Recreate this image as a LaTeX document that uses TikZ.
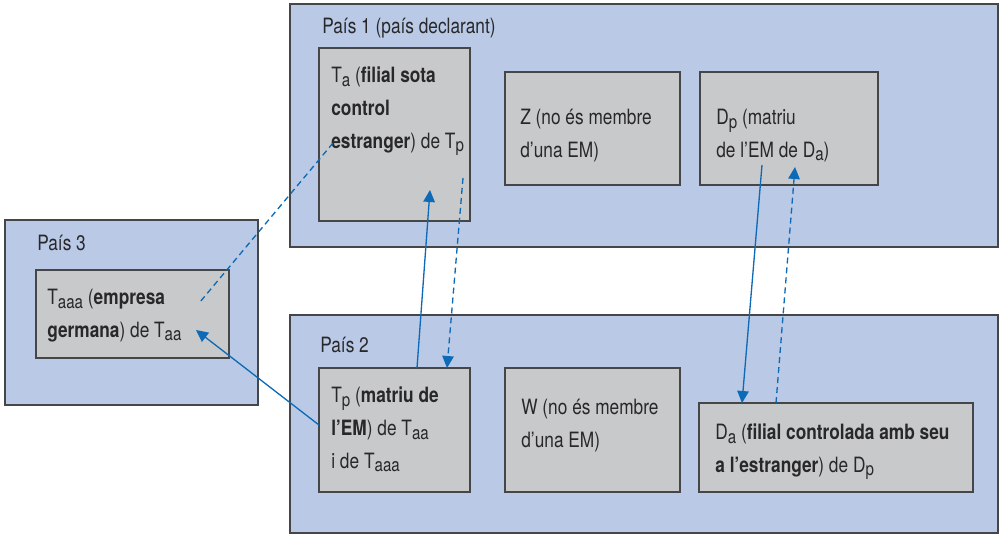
\documentclass[tikz,border=0pt]{standalone}
\usepackage{fontspec}
\setmainfont{TeX Gyre Heros}[FakeStretch=0.82]
\usepackage{xcolor}
\definecolor{countryblue}{RGB}{185,201,230}
\definecolor{firmgray}{RGB}{200,201,203}
\definecolor{framegray}{RGB}{70,70,72}
\definecolor{textgray}{RGB}{40,40,42}
\definecolor{linkblue}{RGB}{12,106,182}
\usepackage{tikz}
\usetikzlibrary{calc}
\usetikzlibrary{arrows.meta}
\newcommand{\lo}[1]{\raisebox{-0.35ex}{\fontsize{10.5}{10.5}\selectfont #1}}
\tikzset{
    common/.style={anchor=north west, draw=framegray, rectangle, inner sep=0pt, outer sep=0pt},
    country/.style={common, fill=countryblue, line width=1.2pt},
    firm/.style={common, fill=firmgray, line width=0.9pt},
    caption/.style={anchor=base west, align=left, inner sep=0pt, text=textgray,
        font=\fontsize{12}{18.7}\selectfont},
    link/.style={draw=linkblue, line width=0.75pt, -{Triangle[length=2.4mm, width=2.3mm]}},
    backlink/.style={link, dash pattern=on 1.2mm off 0.8mm},
    plainlink/.style={draw=linkblue, line width=0.75pt, dash pattern=on 1.2mm off 0.8mm}
}

\begin{document}
\begin{tikzpicture}[x=0.02cm, y=-0.02cm]
    \useasboundingbox (0,0) rectangle (1004,535);

    % countries
    \node[country, minimum width=14.16cm, minimum height=4.86cm] (p1) at (290,4) {};
    \node[country, minimum width=5.06cm, minimum height=3.7cm] (p3) at (5,220) {};
    \node[country, minimum width=14.16cm, minimum height=4.36cm] (p2) at (290,315) {};
    \node[caption] (p1 text) at ($(p1.north west)+(32,29)$) {País 1 (país declarant)};
    \node[caption] (p3 text) at ($(p3.north west)+(32,30)$) {País 3};
    \node[caption] (p2 text) at ($(p2.north west)+(30,37)$) {País 2};

    % companies (captions sit on the baseline of their last line)
    \node[firm, minimum width=3.02cm, minimum height=3.46cm] (ta) at (319,48) {};
    \node[firm, minimum width=3.5cm, minimum height=2.26cm] (z) at (505,72) {};
    \node[firm, minimum width=3.56cm, minimum height=2.26cm] (dp) at (700,72) {};
    \node[firm, minimum width=3.86cm, minimum height=1.76cm] (taaa) at (36,270) {};
    \node[firm, minimum width=3.02cm, minimum height=2.48cm] (tp) at (319,368) {};
    \node[firm, minimum width=3.5cm, minimum height=2.48cm] (w) at (505,368) {};
    \node[firm, minimum width=5.48cm, minimum height=1.78cm] (da) at (699,403) {};

    \node[caption] (ta text) at ($(ta.north west)+(12,100)$)
        {T\lo{a} (\textbf{filial sota}\\ \textbf{control}\\ \textbf{estranger}) de T\lo{p}};
    \node[caption] (z text) at ($(z.north west)+(15,85)$) {Z (no és membre\\ d’una EM)};
    \node[caption] (dp text) at ($(dp.north west)+(16,85)$) {D\lo{p} (matriu\\ de l’EM de D\lo{a})};
    \node[caption] (taaa text) at ($(taaa.north west)+(11,67)$)
        {T\lo{aaa} (\textbf{empresa}\\ \textbf{germana}) de T\lo{aa}};
    \node[caption] (tp text) at ($(tp.north west)+(12,100)$)
        {T\lo{p} (\textbf{matriu de}\\ \textbf{l’EM}) de T\lo{aa}\\ i de T\lo{aaa}};
    \node[caption] (w text) at ($(w.north west)+(16,79)$) {W (no és membre\\ d’una EM)};
    \node[caption] (da text) at ($(da.north west)+(16,69)$)
        {D\lo{a} (\textbf{filial controlada amb seu}\\ \textbf{a l’estranger}) de D\lo{p}};

    % control relations
    \draw[link] ($(tp.north west)+(98,0)$) -- ($(ta.south west)+(111,-31)$);
    \draw[backlink] ($(ta.south west)+(144,-43)$) -- ($(tp.north west)+(128,0)$);
    \draw[link] ($(tp.north west)+(0,57)$) -- ($(taaa.north west)+(160,60)$);
    \draw[plainlink] ($(ta.north west)+(14,95)$) -- ($(taaa.north west)+(164,32)$);
    \draw[link] ($(dp.north west)+(62,93)$) -- ($(da.north west)+(43,0)$);
    \draw[backlink] ($(da.north west)+(77,0)$) -- ($(dp.north west)+(95,95)$);
\end{tikzpicture}
\end{document}
